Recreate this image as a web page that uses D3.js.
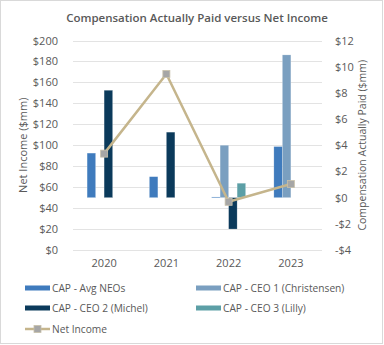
<!DOCTYPE html>
<html>
<head>
<meta charset="utf-8">
<script src="https://cdn.jsdelivr.net/npm/d3@7"></script>
<style>
  body { margin: 0; background: #fff; }
  text { font-family: "Open Sans", sans-serif; fill: #595959; }
</style>
</head>
<body>
<svg></svg>
<script>
// ====== Données ====== //
const years = ["2020", "2021", "2022", "2023"];
const capAvgNeos = [3.4, 1.6, 0.05, 3.9];
const capCeo1 = [null, null, 4.0, 10.9];
const capCeo2 = [8.2, 5.0, -2.4, null];
const capCeo3 = [null, null, 1.1, null];
const netIncome = [92, 168, 46, 63];
const leftTicks = [0, 20, 40, 60, 80, 100, 120, 140, 160, 180, 200];
const rightTicks = [-4, -2, 0, 2, 4, 6, 8, 10, 12];

const seriesNames = ["CAP - Avg NEOs", "CAP - CEO 1 (Christensen)", "CAP - CEO 2 (Michel)", "CAP - CEO 3 (Lilly)"];
const seriesValues = [capAvgNeos, capCeo1, capCeo2, capCeo3];
const colors = ["#3F7BBD", "#7A9FC0", "#0B3A5B", "#5C9FA6"];
const lineColor = "#C5B58C";
const markerColor = "#A6A6A6";

// ====== Dimensions ====== //
const width = 384, height = 345;
const plot = { left: 73, right: 322, top: 40.5, bottom: 250 };

const svg = d3.select("svg")
    .attr("width", width)
    .attr("height", height);

// cadre
svg.append("rect")
    .attr("x", 0.5).attr("y", 0.5)
    .attr("width", width - 2).attr("height", height - 2)
    .attr("fill", "none")
    .attr("stroke", "#D9D9D9");

// Échelles
const x = d3.scaleBand().domain(years).range([plot.left, plot.right]);
const xInner = d3.scaleBand().domain(d3.range(4)).range([0, x.bandwidth()]).paddingOuter(1.66);
const yLeft = d3.scaleLinear().domain([0, 200]).range([plot.bottom, plot.top]);
const yRight = d3.scaleLinear().domain([-4, 12]).range([plot.bottom, plot.top]);

// grille
svg.append("g")
    .selectAll("line")
    .data(leftTicks)
    .join("line")
    .attr("x1", plot.left).attr("x2", plot.right)
    .attr("y1", d => Math.round(yLeft(d)) + 0.5)
    .attr("y2", d => Math.round(yLeft(d)) + 0.5)
    .attr("stroke", "#E3E3E3");

// axe gauche
const axL = svg.append("g")
    .attr("transform", `translate(${plot.left - 12},0)`)
    .call(d3.axisLeft(yLeft).tickValues(leftTicks).tickSize(0).tickFormat(d => "$" + d));
axL.select(".domain").remove();
axL.selectAll("text").attr("font-size", 11).attr("fill", "#595959").attr("font-family", "Open Sans");

// axe droit
const axR = svg.append("g")
    .attr("transform", `translate(${plot.right + 10},0)`)
    .call(d3.axisRight(yRight).tickValues(rightTicks).tickSize(0)
        .tickFormat(d => (d < 0 ? "-$" + (-d) : "$" + d)));
axR.select(".domain").remove();
axR.selectAll("text").attr("font-size", 11).attr("fill", "#595959").attr("font-family", "Open Sans");

// axe x
const axX = svg.append("g")
    .attr("transform", `translate(0,${plot.bottom + 6})`)
    .call(d3.axisBottom(x).tickSize(0));
axX.select(".domain").remove();
axX.selectAll("text").attr("font-size", 11).attr("fill", "#595959").attr("font-family", "Open Sans");

// barres
seriesValues.forEach((vals, i) => {
    svg.append("g")
        .selectAll("rect")
        .data(years.map((y, j) => ({ year: y, v: vals[j] })).filter(d => d.v !== null))
        .join("rect")
        .attr("x", d => x(d.year) + xInner(i))
        .attr("width", xInner.bandwidth())
        .attr("y", d => yRight(Math.max(0, d.v)))
        .attr("height", d => Math.max(0.8, Math.abs(yRight(d.v) - yRight(0))))
        .attr("fill", colors[i])
        .attr("stroke", "#fff")
        .attr("stroke-opacity", 0.35)
        .attr("stroke-width", 0.6);
});

// ligne Net Income
const lineData = years.map((y, j) => ({ year: y, v: netIncome[j] }));
svg.append("path")
    .datum(lineData)
    .attr("fill", "none")
    .attr("stroke", lineColor)
    .attr("stroke-width", 2.5)
    .attr("d", d3.line().x(d => x(d.year) + x.bandwidth() / 2).y(d => yLeft(d.v)));

svg.append("g")
    .selectAll("rect")
    .data(lineData)
    .join("rect")
    .attr("x", d => x(d.year) + x.bandwidth() / 2 - 3.5)
    .attr("y", d => yLeft(d.v) - 3.5)
    .attr("width", 7).attr("height", 7)
    .attr("fill", markerColor)
    .attr("stroke", "#C9C1AA")
    .attr("stroke-width", 0.8);

// titres
svg.append("text")
    .attr("x", 197).attr("y", 22)
    .attr("text-anchor", "middle")
    .attr("font-size", 11.5)
    .attr("font-weight", 600)
    .text("Compensation Actually Paid versus Net Income");

svg.append("text")
    .attr("transform", `translate(27,${(plot.top + plot.bottom) / 2}) rotate(-90)`)
    .attr("text-anchor", "middle")
    .attr("font-size", 11)
    .text("Net Income ($mm)");

svg.append("text")
    .attr("transform", `translate(366,${(plot.top + plot.bottom) / 2}) rotate(-90)`)
    .attr("text-anchor", "middle")
    .attr("font-size", 10.5)
    .text("Compensation Actually Paid ($mm)");

// légende
const legendItems = [
    { name: seriesNames[0], color: colors[0], lx: 25, ly: 288 },
    { name: seriesNames[1], color: colors[1], lx: 196, ly: 288 },
    { name: seriesNames[2], color: colors[2], lx: 25, ly: 308 },
    { name: seriesNames[3], color: colors[3], lx: 196, ly: 308 }
];
const lg = svg.append("g");
legendItems.forEach(d => {
    lg.append("rect")
        .attr("x", d.lx).attr("y", d.ly - 2.5)
        .attr("width", 25).attr("height", 5)
        .attr("fill", d.color);
    lg.append("text")
        .attr("x", d.lx + 27).attr("y", d.ly)
        .attr("dy", "0.35em")
        .attr("font-size", 10.2)
        .text(d.name);
});
lg.append("line")
    .attr("x1", 25).attr("x2", 50)
    .attr("y1", 329).attr("y2", 329)
    .attr("stroke", lineColor).attr("stroke-width", 2.5);
lg.append("rect")
    .attr("x", 34).attr("y", 325.5).attr("width", 7).attr("height", 7)
    .attr("fill", markerColor).attr("stroke", "#C9C1AA").attr("stroke-width", 0.8);
lg.append("text")
    .attr("x", 52).attr("y", 329).attr("dy", "0.35em")
    .attr("font-size", 10.2)
    .text("Net Income");
</script>
</body>
</html>
